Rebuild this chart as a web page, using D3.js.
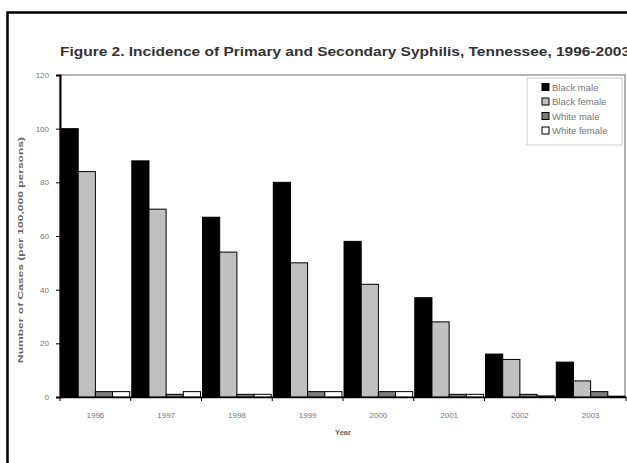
<!DOCTYPE html>
<html>
<head>
<meta charset="utf-8">
<script src="https://cdn.jsdelivr.net/npm/d3@7"></script>
<style>
  html, body { margin: 0; padding: 0; background: #fff; }
  svg { display: block; font-family: "Liberation Sans", Arial, sans-serif; }
</style>
</head>
<body>
<svg id="chart" width="627" height="463"></svg>
<script>
// Incidence of primary and secondary syphilis per 100,000 persons, Tennessee
const years = ["1996", "1997", "1998", "1999", "2000", "2001", "2002", "2003"];
const seriesNames = ["Black male", "Black female", "White male", "White female"];
const blackMale   = [100, 88, 67, 80, 58, 37, 16, 13];
const blackFemale = [84, 70, 54, 50, 42, 28, 14, 6];
const whiteMale   = [2, 1, 1, 2, 2, 1, 1, 2];
const whiteFemale = [2, 2, 1, 2, 2, 1, 0.4, 0.3];
const yTicks = [0, 20, 40, 60, 80, 100, 120];
const seriesColors = ["#000000", "#c0c0c0", "#7a7a7a", "#ffffff"];

const seriesValues = [blackMale, blackFemale, whiteMale, whiteFemale];
const rows = years.map((yr, i) => ({
  year: yr,
  values: seriesNames.map((s, k) => ({ series: s, value: seriesValues[k][i], k }))
}));

const svg = d3.select("#chart");
const plot = { left: 60, right: 626, top: 75, bottom: 397 };
const labelFont = "Liberation Sans, Arial, sans-serif";

// outer figure frame
svg.append("rect")
  .attr("x", 7.5).attr("y", 12.5)
  .attr("width", 660).attr("height", 500)
  .attr("fill", "#fff").attr("stroke", "#000").attr("stroke-width", 2.5);

svg.append("text")
  .attr("x", 60).attr("y", 56)
  .attr("font-size", 12).attr("font-weight", "bold").attr("fill", "#333")
  .attr("textLength", 570).attr("lengthAdjust", "spacingAndGlyphs")
  .text("Figure 2. Incidence of Primary and Secondary Syphilis, Tennessee, 1996-2003");

const x = d3.scaleBand().domain(years).range([plot.left, plot.right]).paddingInner(0).paddingOuter(0);
const xIn = d3.scaleBand().domain(seriesNames).range([0, x.bandwidth()]).paddingInner(0).paddingOuter(0.06);
const y = d3.scaleLinear().domain([0, 120]).range([plot.bottom, plot.top]);

// plot-area border
svg.append("rect")
  .attr("x", plot.left).attr("y", plot.top)
  .attr("width", 565).attr("height", plot.bottom - plot.top)
  .attr("fill", "none").attr("stroke", "#999").attr("stroke-width", 1.5);

// bars
const groups = svg.append("g").selectAll("g")
  .data(rows).join("g")
  .attr("transform", d => `translate(${x(d.year)},0)`);

groups.selectAll("rect")
  .data(d => d.values).join("rect")
  .attr("x", d => xIn(d.series))
  .attr("y", d => y(d.value))
  .attr("width", xIn.bandwidth())
  .attr("height", d => y(0) - y(d.value))
  .attr("fill", d => seriesColors[d.k])
  .attr("stroke", "#000").attr("stroke-width", 1);

// y axis
const yAxis = svg.append("g")
  .attr("transform", `translate(${plot.left},0)`)
  .call(d3.axisLeft(y).tickValues(yTicks).tickSize(4).tickPadding(7));
yAxis.select(".domain").attr("stroke", "#000").attr("stroke-width", 2);
yAxis.selectAll(".tick line").attr("stroke", "#000");
yAxis.selectAll("text")
  .attr("font-size", 8).attr("fill", "#777").attr("font-family", labelFont);

// x axis with tick marks at category boundaries
const xAxis = svg.append("g")
  .attr("transform", `translate(0,${plot.bottom})`)
  .call(d3.axisBottom(x).tickSize(0).tickPadding(15));
xAxis.select(".domain").attr("stroke", "#000").attr("stroke-width", 1.5);
xAxis.selectAll("text")
  .attr("font-size", 8).attr("fill", "#777").attr("font-family", labelFont);
xAxis.selectAll(".boundary")
  .data(years.concat(["end"])).join("line")
  .attr("class", "boundary")
  .attr("x1", (d, i) => i < years.length ? x(d) : x(years[years.length - 1]) + x.bandwidth())
  .attr("x2", (d, i) => i < years.length ? x(d) : x(years[years.length - 1]) + x.bandwidth())
  .attr("y1", 0).attr("y2", 4)
  .attr("stroke", "#000");

// axis titles
svg.append("text")
  .attr("transform", `translate(23,250) rotate(-90)`)
  .attr("text-anchor", "middle")
  .attr("font-size", 7.5).attr("font-weight", "bold").attr("fill", "#666")
  .attr("textLength", 226).attr("lengthAdjust", "spacingAndGlyphs")
  .text("Number of Cases (per 100,000 persons)");

svg.append("text")
  .attr("x", 343).attr("y", 435)
  .attr("text-anchor", "middle")
  .attr("font-size", 7.5).attr("font-weight", "bold").attr("fill", "#666")
  .text("Year");

// legend
const legend = svg.append("g").attr("transform", "translate(538,80)");
legend.append("rect")
  .attr("x", -11).attr("y", -2)
  .attr("width", 95).attr("height", 67)
  .attr("fill", "#fff").attr("stroke", "#ccc").attr("stroke-width", 1);
const items = legend.selectAll("g.item")
  .data(seriesNames).join("g")
  .attr("class", "item")
  .attr("transform", (d, i) => `translate(4,${3.5 + i * 14.5})`);
items.append("rect")
  .attr("x", 0).attr("y", 0).attr("width", 7).attr("height", 7)
  .attr("fill", (d, i) => seriesColors[i]).attr("stroke", "#000").attr("stroke-width", 1);
items.append("text")
  .attr("x", 10).attr("y", 7)
  .attr("font-size", 9.5).attr("fill", "#777")
  .text(d => d);
</script>
</body>
</html>
